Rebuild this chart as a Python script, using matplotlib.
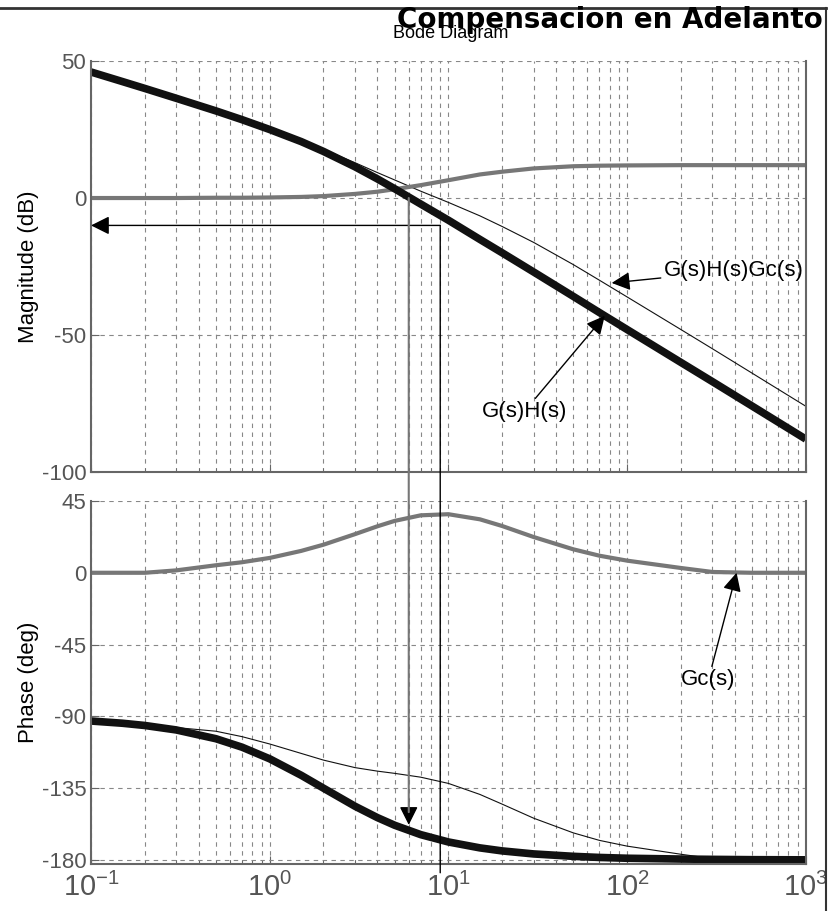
import matplotlib
matplotlib.use("Agg")
import matplotlib.pyplot as plt
from matplotlib import font_manager
from matplotlib.lines import Line2D
from matplotlib.patches import ConnectionPatch

# frequencies (rad/s) and the curves
w = [0.1, 0.15, 0.2, 0.3, 0.5, 0.7, 1, 1.5, 2, 3, 4, 5, 7, 10, 15, 20,
     30, 50, 70, 100, 200, 300, 500, 1000]

mag_gh = [46.0, 42.5, 40.0, 36.4, 31.8, 28.6, 25.0, 20.6, 17.0, 11.4, 7.0, 3.4,
          -2.2, -8.1, -15.1, -20.0, -27.0, -35.9, -41.8, -48.0, -60.0, -67.0,
          -75.9, -88.0]
mag_gc = [0.0, 0.0, 0.0, 0.0, 0.1, 0.1, 0.2, 0.4, 0.7, 1.5, 2.3, 3.2, 4.7, 6.5,
          8.6, 9.6, 10.8, 11.6, 11.8, 11.9, 12.0, 12.0, 12.0, 12.0]
mag_total = [46.0, 42.5, 40.0, 36.4, 31.9, 28.7, 25.2, 21.0, 17.7, 12.9, 9.3,
             6.6, 2.5, -1.6, -6.5, -10.4, -16.2, -24.3, -30.0, -36.1, -48.0,
             -55.0, -63.9, -76.0]

phase_gh = [-92.9, -94.3, -95.7, -98.5, -104.0, -109.3, -116.6, -126.9, -135.0,
            -146.3, -153.4, -158.2, -164.1, -168.7, -172.4, -174.3, -176.2,
            -177.7, -178.4, -178.9, -179.4, -179.6, -179.8, -179.9]
phase_gc = [0.0, 0.0, 0.0, 1.5, 4.7, 6.6, 9.3, 13.7, 17.6, 24.2, 29.1, 32.5,
            36.0, 36.7, 33.5, 29.3, 22.4, 14.7, 10.7, 7.6, 3.0, 0.5, 0.0, 0.0]
phase_total = [-92.9, -94.3, -95.7, -97.0, -99.3, -102.7, -107.3, -113.2,
               -117.4, -122.1, -124.3, -125.7, -128.1, -132.0, -138.9, -145.0,
               -153.8, -163.0, -167.7, -171.3, -176.4, -179.1, -179.8, -179.9]

mag_ticks = [50, 0, -50, -100]
phase_ticks = [45, 0, -45, -90, -135, -180]
w_ticks = [0.1, 1, 10, 100, 1000]

installed = {f.name for f in font_manager.fontManager.ttflist}
narrow = "Liberation Sans Narrow" if "Liberation Sans Narrow" in installed else "Liberation Sans"
plt.rcParams["font.family"] = [narrow, "DejaVu Sans"]
plt.rcParams["mathtext.fontset"] = "custom"
plt.rcParams["mathtext.rm"] = narrow
plt.rcParams["mathtext.it"] = narrow
plt.rcParams["axes.unicode_minus"] = False

fig = plt.figure(figsize=(8.35, 9.11), dpi=100)
ax1 = fig.add_axes([0.109, 0.4819, 0.856, 0.4511])
ax2 = fig.add_axes([0.109, 0.0516, 0.856, 0.3985])

dark = "#111111"
gray = "#777777"
axcol = "#666666"

for ax in (ax1, ax2):
    ax.set_xscale("log")
    ax.set_xlim(0.1, 1000)
    ax.grid(True, which="both", axis="x", color="#888888", ls=(0, (4, 4)), lw=0.8)
    ax.grid(True, which="major", axis="y", color="#888888", ls=(0, (4, 4)), lw=0.8)
    ax.spines["top"].set_visible(False)
    for s in ("left", "right", "bottom"):
        ax.spines[s].set_color(axcol)
        ax.spines[s].set_linewidth(1.5)
    ax.tick_params(which="both", direction="in", colors=axcol, labelcolor="#555555",
                   labelsize=16)
    ax.tick_params(which="major", length=6)
    ax.tick_params(which="minor", length=3)

ax1.plot(w, mag_total, color=dark, lw=0.8)
ax1.plot(w, mag_gc, color=gray, lw=3)
ax1.plot(w, mag_gh, color=dark, lw=5.5, solid_capstyle="butt")
ax1.set_ylim(-100, 50)
ax1.set_yticks(mag_ticks)
ax1.set_xticks(w_ticks)
ax1.tick_params(axis="x", labelbottom=False)
ax1.set_ylabel("Magnitude (dB)", fontsize=16, color="black", labelpad=2)

ax2.plot(w, phase_total, color=dark, lw=0.8)
ax2.plot(w, phase_gc, color=gray, lw=3)
ax2.plot(w, phase_gh, color=dark, lw=5.5, solid_capstyle="butt")
ax2.set_ylim(-182.5, 45)
ax2.set_yticks(phase_ticks)
ax2.set_xticks(w_ticks)
ax2.tick_params(axis="x", labelsize=21, pad=6)
ax2.set_ylabel("Phase (deg)", fontsize=16, color="black", labelpad=2)

arrow = dict(arrowstyle="-|>", color="black", lw=1, mutation_scale=28,
             shrinkA=0, shrinkB=0)

# margin read-out lines
ax1.annotate("", xy=(0.1, -10), xytext=(9, -10), arrowprops=arrow)
fig.add_artist(ConnectionPatch(xyA=(9, -10), coordsA=ax1.transData,
                               xyB=(9, -188), coordsB=ax2.transData,
                               color="black", lw=1))
fig.add_artist(ConnectionPatch(xyA=(6, 0), coordsA=ax1.transData,
                               xyB=(6, -150), coordsB=ax2.transData,
                               color=gray, lw=1.5))
ax2.annotate("", xy=(6, -158), xytext=(6, -142), arrowprops=arrow)

# curve labels
ax1.annotate("G(s)H(s)Gc(s)", xy=(82, -31), xytext=(160, -26.5),
             fontsize=16, va="center", ha="left", arrowprops=arrow)
ax1.annotate("G(s)H(s)", xy=(75, -43), xytext=(46, -78),
             fontsize=16, va="center", ha="right", arrowprops=arrow)
ax2.annotate("Gc(s)", xy=(410, 0), xytext=(285, -67),
             fontsize=16, va="center", ha="center", arrowprops=arrow)

fig.text(0.985, 0.978, "Compensacion en Adelanto", ha="right", va="center",
         fontsize=20, fontweight="bold", family="DejaVu Sans")
fig.text(0.54, 0.963, "Bode Diagram", ha="center", va="center", fontsize=13)

# page frame
fig.add_artist(Line2D([0, 0.989], [0.991, 0.991], transform=fig.transFigure,
                      color="#333333", lw=2))
fig.add_artist(Line2D([0.989, 0.989], [0, 0.991], transform=fig.transFigure,
                      color="#333333", lw=1.5))

fig.savefig("out.png", dpi=100)
